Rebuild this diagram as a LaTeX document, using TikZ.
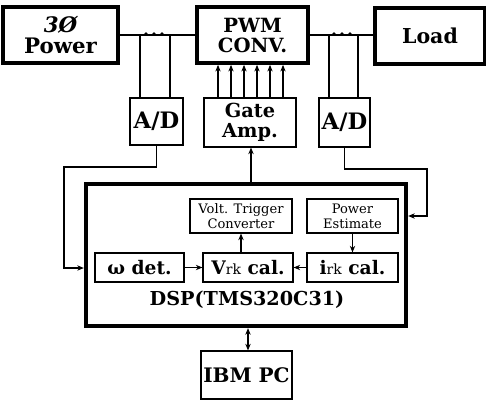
\documentclass[tikz,border=0pt]{standalone}
\usepackage{fontspec}
\setmainfont{DejaVu Serif}
\usetikzlibrary{arrows.meta}
\begin{document}
\begin{tikzpicture}[x=0.75pt,y=-0.75pt,
  thickbox/.style={draw,line width=2.8pt,inner sep=0pt,font=\bfseries},
  thinbox/.style={draw,line width=0.8pt,inner sep=0pt,font=\bfseries},
  small/.style={draw,line width=0.8pt,inner sep=0pt,font=\fontsize{9.8}{11}\selectfont,align=center},
  arr/.style={line width=0.8pt,-{Stealth[length=5pt,width=4pt]}},
  darr/.style={line width=0.8pt,{Stealth[length=5pt,width=4pt]}-{Stealth[length=5pt,width=4pt]}},
  wire/.style={line width=0.8pt},
  bus/.style={line width=2pt}]
\useasboundingbox (0,0) rectangle (486,403);
% top row
\node[thickbox,minimum width=115*0.75pt,minimum height=56*0.75pt,align=center,font=\bfseries\fontsize{16}{16}\selectfont] (power) at (60.5,35) {{\itshape 3Ø}\\Power};
\node[thickbox,minimum width=111*0.75pt,minimum height=56*0.75pt,align=center,font=\bfseries\fontsize{14.7}{15}\selectfont] (pwm) at (252.5,35) {PWM\\CONV.};
\node[thickbox,minimum width=110*0.75pt,minimum height=56*0.75pt,font=\bfseries\fontsize{15.4}{16}\selectfont] (load) at (430,36) {Load};
% second row
\node[thinbox,minimum width=53*0.75pt,minimum height=47*0.75pt,font=\bfseries\fontsize{17}{17}\selectfont] (adl) at (156.5,121.5) {A/D};
\node[thinbox,minimum width=92*0.75pt,minimum height=49*0.75pt,align=center,font=\bfseries\fontsize{14.5}{15.5}\selectfont] (gate) at (250,122.5) {Gate\\Amp.};
\node[thinbox,minimum width=51*0.75pt,minimum height=49*0.75pt,font=\bfseries\fontsize{17}{17}\selectfont] (adr) at (344.5,122.5) {A/D};
% DSP
\node[draw,line width=3.2pt,minimum width=320*0.75pt,minimum height=142*0.75pt] (dsp) at (246,255) {};
\node[font=\bfseries\fontsize{14.4}{15}\selectfont] (dsplabel) at (247,300) {DSP(TMS320C31)};
\node[small,minimum width=102*0.75pt,minimum height=34*0.75pt] (volt) at (241,216) {Volt. Trigger\\Converter};
\node[small,minimum width=91*0.75pt,minimum height=34*0.75pt] (pest) at (352.5,216) {Power\\Estimate};
\node[thinbox,minimum width=89*0.75pt,minimum height=29*0.75pt,font=\bfseries\fontsize{14}{14}\selectfont] (wdet) at (139.5,267.5) {ω det.};
\node[thinbox,minimum width=90*0.75pt,minimum height=29*0.75pt,font=\bfseries\fontsize{14}{14}\selectfont] (vrk) at (248,267.5) {V{\mdseries\fontsize{10.5}{11}\selectfont rk} cal.};
\node[thinbox,minimum width=91*0.75pt,minimum height=29*0.75pt,font=\bfseries\fontsize{14}{14}\selectfont] (irk) at (352.5,267.5) {i{\mdseries\fontsize{10.5}{11}\selectfont rk} cal.};
\node[thinbox,minimum width=91*0.75pt,minimum height=48*0.75pt,font=\bfseries\fontsize{15}{15}\selectfont] (ibm) at (246.5,375) {IBM\ PC};
% power lines
\coordinate (ya) at (0,35);
\draw[bus] (power.east) -- (pwm.west);
\draw[bus] (pwm.east |- ya) -- (load.west |- ya);
\foreach \x/\n in {146/a,154/b,162/c} {\fill (\x,34) circle (1.8*0.75pt) coordinate (dl\n);}
\foreach \x/\n in {334/a,342/b,350/c} {\fill (\x,34) circle (1.8*0.75pt) coordinate (dr\n);}
\coordinate (tl1) at (140,35);
\coordinate (tl2) at (170,35);
\coordinate (tr1) at (329,35);
\coordinate (tr2) at (358,35);
\draw[wire] (tl1) -- (adl.north -| tl1);
\draw[wire] (tl2) -- (adl.north -| tl2);
\draw[wire] (tr1) -- (adr.north -| tr1);
\draw[wire] (tr2) -- (adr.north -| tr2);
% gate arrows
\foreach \x [count=\i] in {218,231,244,257,270,283} {
  \coordinate (g\i) at (\x,0);
  \draw[arr] (gate.north -| g\i) -- (pwm.south -| g\i);
}
% A/D to DSP
\coordinate (lb) at (64,167);
\coordinate (rb) at (427,169);
\coordinate (yl) at (0,268);
\coordinate (yr) at (0,216);
\draw[arr] (adl.south) |- (lb) |- (dsp.west |- yl);
\draw[arr] (adr.south) -- (adr.south |- rb) -- (rb) |- (dsp.east |- yr);
\coordinate (ga) at (251,0);
\draw[arr] (dsp.north -| ga) -- (gate.south -| ga);
% inner arrows
\draw[arr] (wdet) -- (vrk);
\draw[arr] (irk) -- (vrk);
\draw[arr] (vrk.north -| volt.south) -- (volt.south);
\draw[arr] (pest.south) -- (irk.north);
\coordinate (pc) at (248,0);
\draw[darr] (dsp.south -| pc) -- (ibm.north -| pc);
\end{tikzpicture}
\end{document}
